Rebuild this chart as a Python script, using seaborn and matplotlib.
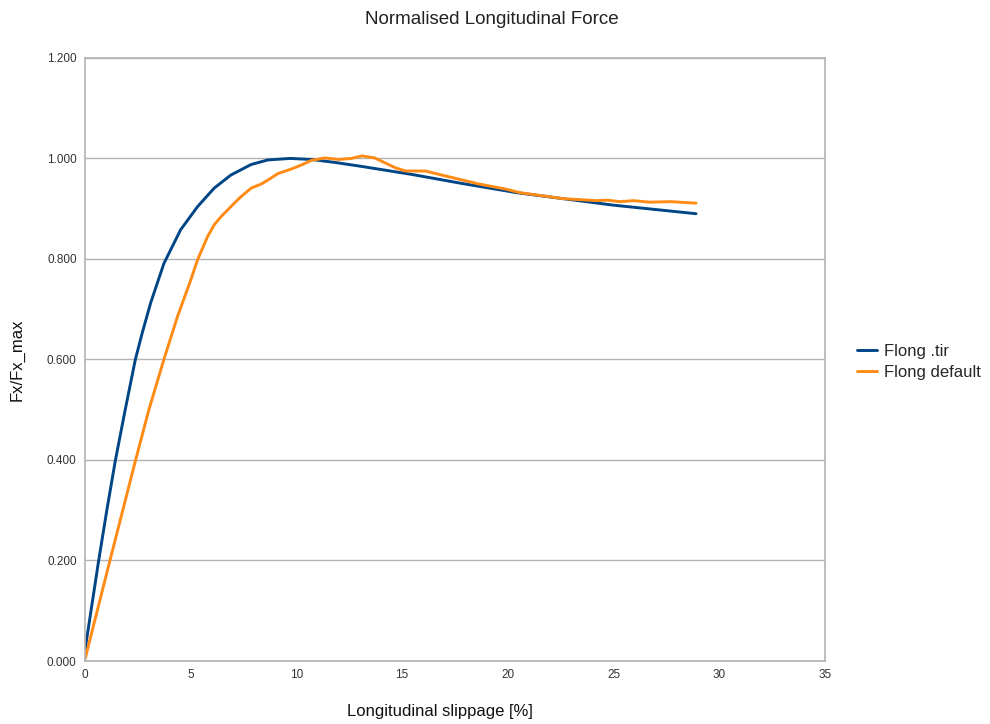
import numpy as np
import pandas as pd
import matplotlib
matplotlib.use("Agg")
import matplotlib.pyplot as plt
import seaborn as sns

# values
slip_tir = [0, 0.63, 1.03, 1.43, 1.90, 2.38, 2.70, 3.10, 3.73, 4.52, 5.32, 6.11,
            6.9, 7.86, 8.65, 9.7, 10.7, 11.83, 13.1, 15.48, 17.86, 20.4, 22.6,
            25.0, 28.9]
force_tir = [0.022, 0.196, 0.30, 0.398, 0.50, 0.60, 0.652, 0.712, 0.791, 0.858, 0.904, 0.941,
             0.967, 0.988, 0.997, 1.0, 0.998, 0.992, 0.984, 0.968, 0.950, 0.932, 0.920,
             0.907, 0.890]

slip_default = [0, 1.16, 2.38, 3.02, 3.73, 4.37, 5.0, 5.32, 5.79, 6.11, 6.43, 7.06,
                7.38, 7.86, 8.33, 8.65, 9.13, 9.76, 10.24, 10.7, 11.35, 11.98, 12.6,
                13.1, 13.7, 14.2, 14.7, 15.16, 16.1, 17.06, 18.65, 19.9, 20.56, 22.6,
                24.2, 24.7, 25.3, 25.95, 26.7, 27.7, 28.9]
force_default = [0.004, 0.197, 0.398, 0.50, 0.60, 0.685, 0.758, 0.798, 0.844, 0.868, 0.884, 0.911,
                 0.924, 0.941, 0.949, 0.957, 0.970, 0.979, 0.987, 0.996, 1.001, 0.998, 1.0,
                 1.005, 1.001, 0.991, 0.981, 0.975, 0.975, 0.965, 0.949, 0.939, 0.932, 0.920,
                 0.916, 0.917, 0.914, 0.916, 0.913, 0.914, 0.911]

series_names = ["Flong .tir", "Flong default"]
series_colors = ["#004586", "#ff8a14"]

df = pd.concat([
    pd.DataFrame({"slip": slip_tir, "force": force_tir, "series": series_names[0]}),
    pd.DataFrame({"slip": slip_default, "force": force_default, "series": series_names[1]}),
], ignore_index=True)

sns.set_style("white")
plt.rcParams["font.family"] = ["Liberation Sans", "DejaVu Sans"]

fig = plt.figure(figsize=(9.9, 7.24), dpi=100)
ax = fig.add_axes([0.0859, 0.087, 0.7474, 0.833])

sns.lineplot(data=df, x="slip", y="force", hue="series", palette=series_colors,
             hue_order=series_names, estimator=None, sort=False, linewidth=2.1, ax=ax)

ax.set_xlim(0, 35)
ax.set_ylim(0, 1.2)
ax.set_xticks(np.arange(0, 36, 5))
ax.set_yticks(np.arange(0, 1.21, 0.2))
ax.set_yticklabels([f"{v:.3f}" for v in np.arange(0, 1.21, 0.2)])
ax.yaxis.grid(True, color="#b3b3b3", linewidth=1)
ax.set_axisbelow(True)
for s in ax.spines.values():
    s.set_color("#b3b3b3")
    s.set_linewidth(1.2)
ax.tick_params(axis="both", length=4, width=1, color="#b3b3b3", labelsize=8.5,
               labelcolor="#333333", pad=2, direction="out")

ax.set_xlabel("Longitudinal slippage [%]", fontsize=12, labelpad=16, color="#111111")
ax.xaxis.label.set_x(0.48)
ax.set_ylabel("Fx/Fx_max", fontsize=12, labelpad=16, color="#111111")
# title is centred on the figure, not the plot area
fig.suptitle("Normalised Longitudinal Force", x=0.497, y=0.985, va="top",
             fontsize=13.5, color="#222222")

handles, labels = ax.get_legend_handles_labels()
ax.legend_.remove()
fig.legend(handles, labels, loc="center left", bbox_to_anchor=(0.8657, 0.5),
           frameon=False, fontsize=12, handlelength=1.2, handletextpad=0.42,
           labelspacing=0.35, borderpad=0, borderaxespad=0)

fig.savefig("out.png", dpi=100)
